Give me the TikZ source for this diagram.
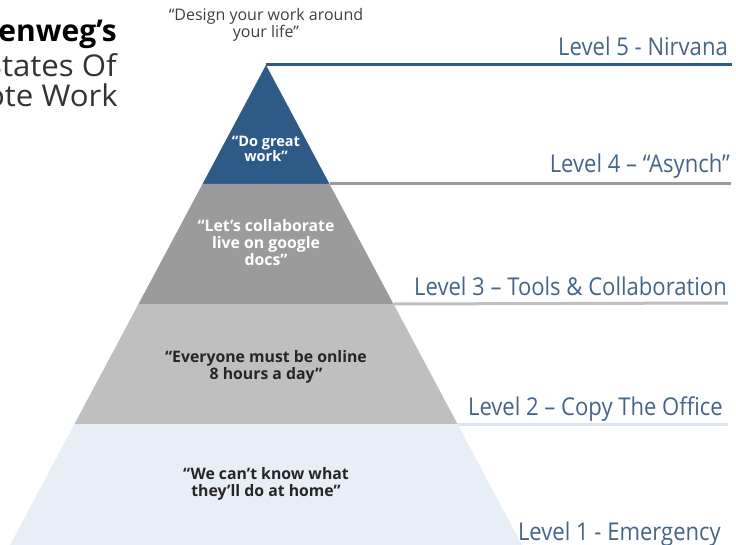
\documentclass[tikz,border=0pt]{standalone}
\usepackage{fontspec}
\setmainfont{Open Sans}
\newfontfamily\lvlfont[FakeStretch=0.9]{Open Sans}
\newfontfamily\headfont[FakeStretch=1.04]{Open Sans}
\definecolor{nirvana}{HTML}{2E5A88}
\definecolor{asynch}{HTML}{9B9B9B}
\definecolor{tools}{HTML}{BFBFBF}
\definecolor{emergency}{HTML}{E8EEF6}
\definecolor{officeline}{HTML}{DCE4EE}
\definecolor{lvlblue}{HTML}{44648A}

\begin{document}
\begin{tikzpicture}[x=1pt,y=-1pt,
  lvltext/.style={anchor=base east,inner sep=0pt,text=lvlblue,font=\lvlfont\fontsize{24.5}{28}\selectfont},
  quote/.style={align=center,font=\bfseries\fontsize{15.8}{17}\selectfont},
  headtext/.style={anchor=base east,inner sep=0pt,text=black!80,font=\headfont\fontsize{30}{32}\selectfont},
  levelline/.style={line width=3pt}]

\useasboundingbox (0,0) rectangle (736,545);
\clip (0,0) rectangle (736,545);

\coordinate (top) at (266,65);
\coordinate (l4) at (202.5,184);
\coordinate (r4) at (329.5,184);
\coordinate (l3) at (138.5,304);
\coordinate (r3) at (393.5,304);
\coordinate (l2) at (74.5,424);
\coordinate (r2) at (457.5,424);
\coordinate (l1) at (10,545);
\coordinate (r1) at (522,545);

\coordinate (e5) at (732,65);
\coordinate (e4) at (731,184);
\coordinate (e3) at (728,303);
\coordinate (e2) at (728,424);

\fill[nirvana] (top) -- (r4) -- (l4) -- cycle;
\fill[asynch] (l4) -- (r4) -- (r3) -- (l3) -- cycle;
\fill[tools] (l3) -- (r3) -- (r2) -- (l2) -- cycle;
\fill[emergency] (l2) -- (r2) -- (r1) -- (l1) -- cycle;

\draw[levelline,nirvana] (top) -- (e5);
\draw[levelline,asynch] (r4) -- (e4);
\draw[levelline,tools] (r3) -- (e3);
\draw[levelline,officeline] (r2) -- (e2);

\node[lvltext] (n5) at (728,56) {Level 5 - Nirvana};
\node[lvltext] (n4) at (730,173) {Level 4 – “Asynch”};
\node[lvltext] (n3) at (727,295) {Level 3 – Tools \& Collaboration};
\node[lvltext] (n2) at (723,415) {Level 2 – Copy The Office};
\node[lvltext] (n1) at (721,540) {Level 1 - Emergency};

\node[align=center,text=black!75,font=\fontsize{16}{14}\selectfont] (q5) at (266,25) {“Design your work around\\your life”};
\node[align=center,text=white,font=\bfseries\fontsize{14.5}{15.5}\selectfont] (q4) at (266,149) {“Do great\\work”};
\node[quote,text=white] (q3) at (266,243) {“Let’s collaborate\\live on google\\docs”};
\node[quote,text=black!85] (q2) at (266,367) {“Everyone must be online\\8 hours a day”};
\node[quote,text=black!85] (q1) at (266,484) {“We can’t know what\\they’ll do at home”};

\node[headtext,text=black,font=\bfseries\fontsize{30}{32}\selectfont] (t1) at (117,42) {enweg’s};
\node[headtext] (t2) at (117,77) {States Of};
\node[headtext] (t3) at (118,107) {ote Work};
\end{tikzpicture}
\end{document}
